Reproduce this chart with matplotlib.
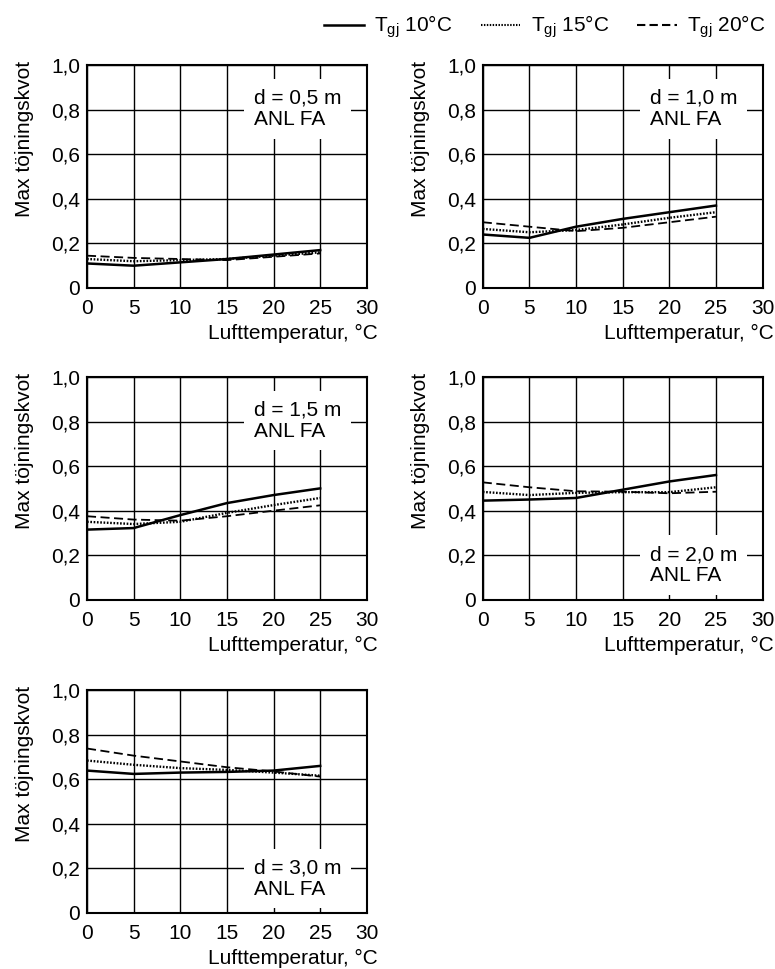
import matplotlib
matplotlib.use("Agg")
import matplotlib.pyplot as plt
from matplotlib.lines import Line2D

plt.rcParams['font.family'] = ['Liberation Sans', 'DejaVu Sans']
plt.rcParams['font.size'] = 15
plt.rcParams['mathtext.fontset'] = 'custom'
plt.rcParams['mathtext.rm'] = 'Liberation Sans'
plt.rcParams['mathtext.it'] = 'Liberation Sans:italic'

# data
temp = [0, 5, 10, 15, 20, 25]
depths = ["0,5", "1,0", "1,5", "2,0", "3,0"]

t10 = [
    [0.11, 0.10, 0.115, 0.13, 0.15, 0.17],
    [0.24, 0.225, 0.275, 0.31, 0.34, 0.37],
    [0.315, 0.322, 0.38, 0.434, 0.47, 0.50],
    [0.445, 0.45, 0.457, 0.494, 0.531, 0.56],
    [0.639, 0.624, 0.63, 0.633, 0.639, 0.66],
]
t15 = [
    [0.13, 0.12, 0.125, 0.13, 0.145, 0.16],
    [0.265, 0.25, 0.26, 0.285, 0.315, 0.34],
    [0.35, 0.34, 0.35, 0.39, 0.425, 0.457],
    [0.484, 0.47, 0.48, 0.483, 0.483, 0.505],
    [0.684, 0.665, 0.65, 0.642, 0.63, 0.616],
]
t20 = [
    [0.145, 0.135, 0.13, 0.125, 0.14, 0.155],
    [0.295, 0.275, 0.255, 0.27, 0.295, 0.32],
    [0.375, 0.36, 0.355, 0.375, 0.40, 0.424],
    [0.527, 0.505, 0.487, 0.485, 0.478, 0.485],
    [0.738, 0.706, 0.68, 0.654, 0.635, 0.612],
]
box_top = [True, True, True, False, False]

legend_labels = [r"T$_{\mathrm{gj}}$ 10°C", r"T$_{\mathrm{gj}}$ 15°C", r"T$_{\mathrm{gj}}$ 20°C"]
xticks = [0, 5, 10, 15, 20, 25, 30]
yticks = [0, 0.2, 0.4, 0.6, 0.8, 1.0]
ytick_labels = ["0", "0,2", "0,4", "0,6", "0,8", "1,0"]

dot_ls = (0, (0.7, 0.7))
dash_ls = (0, (5, 2.5))

fig = plt.figure(figsize=(7.75, 9.69), dpi=100)

lefts = [0.1123, 0.623]
bottoms = [0.7028, 0.381, 0.0578]
w, h = 0.361, 0.230

for i in range(5):
    ax = fig.add_axes([lefts[i % 2], bottoms[i // 2], w, h])
    ax.plot(temp, t10[i], color='black', lw=1.8, ls='-', zorder=3)
    ax.plot(temp, t15[i], color='black', lw=1.7, ls=dot_ls, zorder=3)
    ax.plot(temp, t20[i], color='black', lw=1.3, ls=dash_ls, zorder=3)
    ax.set_xlim(0, 30)
    ax.set_ylim(0, 1.0)
    ax.set_xticks(xticks)
    ax.set_yticks(yticks)
    ax.set_yticklabels(ytick_labels)
    ax.grid(True, color='black', lw=1.0)
    ax.set_axisbelow(True)
    ax.tick_params(axis='x', length=0, pad=8, labelsize=15)
    ax.tick_params(axis='y', length=0, pad=5, labelsize=15)
    for s in ax.spines.values():
        s.set_linewidth(1.5)
    ax.set_ylabel("Max töjningskvot", fontsize=15, loc='top')
    ax.yaxis.set_label_coords(-0.19, 1.02)
    ax.set_xlabel("Lufttemperatur, °C", fontsize=15)
    ax.xaxis.set_label_coords(1.04, -0.16)
    ax.xaxis.label.set_horizontalalignment('right')
    ax.xaxis.label.set_verticalalignment('top')
    ypos = 0.895 if box_top[i] else 0.245
    ax.text(17.9, ypos, "d = " + depths[i] + " m\nANL FA", fontsize=15,
            ha='left', va='top', linespacing=1.15, zorder=4,
            bbox=dict(facecolor='white', edgecolor='none', pad=7))

handles = [Line2D([], [], color='black', lw=1.8, ls='-'),
           Line2D([], [], color='black', lw=1.5, ls=dot_ls),
           Line2D([], [], color='black', lw=1.5, ls=(0, (4, 2)))]
fig.legend(handles, legend_labels, loc='upper right', bbox_to_anchor=(1.012, 1.005),
           ncol=3, frameon=False, fontsize=15, handlelength=1.9,
           handletextpad=0.5, columnspacing=1.35)

fig.savefig("out.png", dpi=100)
